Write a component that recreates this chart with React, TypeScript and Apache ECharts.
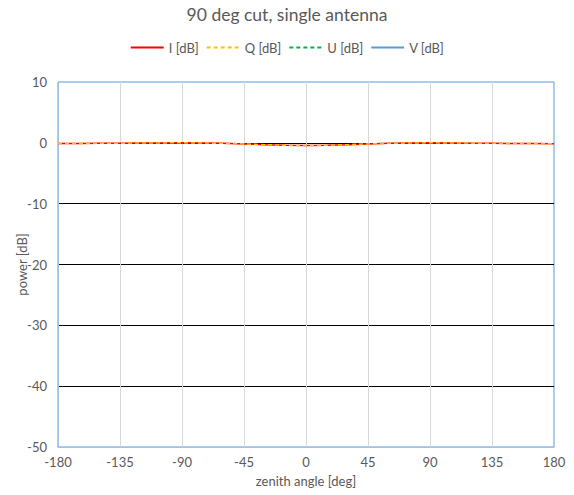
import React, { useEffect, useRef } from "react";
import * as echarts from "echarts";

const angles = [-180, -165, -150, -135, -120, -105, -90, -75, -60, -45, -30, -15, 0, 15, 30, 45, 60, 75, 90, 105, 120, 135, 150, 165, 180];
const iValues = [-0.1, -0.1, -0.08, -0.06, -0.03, -0.01, 0, -0.03, -0.08, -0.18, -0.3, -0.4, -0.45, -0.4, -0.3, -0.18, -0.08, -0.03, 0, -0.02, -0.05, -0.08, -0.1, -0.12, -0.15];
const qValues = [-0.1, -0.1, -0.08, -0.06, -0.03, -0.01, 0, -0.03, -0.08, -0.18, -0.3, -0.4, -0.45, -0.4, -0.3, -0.18, -0.08, -0.03, 0, -0.02, -0.05, -0.08, -0.1, -0.12, -0.15];
const uValues: (number | null)[] = angles.map(() => null);
const vValues: (number | null)[] = angles.map(() => null);
const seriesNames = ["I [dB]", "Q [dB]", "U [dB]", "V [dB]"];

const FONT = "Lato, 'Open Sans', sans-serif";
const TXT = "#595959";

export default function App() {
  const ref = useRef<HTMLDivElement>(null);
  useEffect(() => {
    if (!ref.current) return;
    const chart = echarts.init(ref.current, null, { renderer: "svg" });
    const pair = (vals: (number | null)[]) => angles.map((a, i) => [a, vals[i]]);
    chart.setOption({
      animation: false,
      textStyle: { fontFamily: FONT },
      title: {
        text: "90 deg cut, single antenna",
        left: "center",
        top: 0,
        textStyle: { fontFamily: FONT, fontSize: 17.5, fontWeight: "normal", color: TXT },
      },
      legend: {
        top: 36,
        left: "center",
        itemWidth: 33,
        itemHeight: 10,
        itemGap: 7,
        itemStyle: { opacity: 0 },
        textStyle: { fontFamily: FONT, fontSize: 13, color: TXT },
        data: seriesNames,
      },
      grid: {
        left: 58,
        right: 20,
        top: 82,
        bottom: 48,
        outerBoundsMode: "none",
        show: true,
        borderColor: "#5B9BD5",
        borderWidth: 1,
      },
      xAxis: {
        type: "value",
        min: -180,
        max: 180,
        interval: 45,
        name: "zenith angle [deg]",
        nameLocation: "middle",
        nameGap: 27,
        nameMoveOverlap: false,
        nameTextStyle: { fontFamily: FONT, fontSize: 13, color: TXT },
        axisLine: { show: true, onZero: false, lineStyle: { color: "#9DC3E6" } },
        axisTick: { show: false },
        axisLabel: { fontFamily: FONT, fontSize: 13, color: TXT, margin: 8 },
        splitLine: { show: true, showMinLine: false, showMaxLine: false, lineStyle: { color: "#D9D9D9", width: 1 } },
      },
      yAxis: {
        type: "value",
        min: -50,
        max: 10,
        interval: 10,
        name: "power [dB]",
        nameLocation: "middle",
        nameGap: 30,
        nameMoveOverlap: false,
        nameTextStyle: { fontFamily: FONT, fontSize: 13, color: TXT },
        axisLine: { show: true, onZero: false, lineStyle: { color: "#9DC3E6" } },
        axisTick: { show: false },
        axisLabel: { fontFamily: FONT, fontSize: 13, color: TXT, margin: 11 },
        splitLine: { show: true, showMinLine: false, showMaxLine: false, lineStyle: { color: "#000000", width: 1 } },
      },
      series: [
        { name: seriesNames[0], type: "line", symbol: "none", data: pair(iValues), lineStyle: { color: "#FF0000", width: 1.5 }, itemStyle: { color: "#FF0000" } },
        { name: seriesNames[1], type: "line", symbol: "none", data: pair(qValues), lineStyle: { color: "#FFC000", width: 1.5, type: [4, 3] }, itemStyle: { color: "#FFC000" } },
        { name: seriesNames[2], type: "line", symbol: "none", data: pair(uValues), lineStyle: { color: "#00B050", width: 1.5, type: [4, 3] }, itemStyle: { color: "#00B050" } },
        { name: seriesNames[3], type: "line", symbol: "none", data: pair(vValues), lineStyle: { color: "#5B9BD5", width: 1.5 }, itemStyle: { color: "#5B9BD5" } },
      ],
    });
    return () => chart.dispose();
  }, []);
  return <div ref={ref} style={{ width: 574, height: 495, position: "absolute", left: 0, top: 0 }} />;
}
